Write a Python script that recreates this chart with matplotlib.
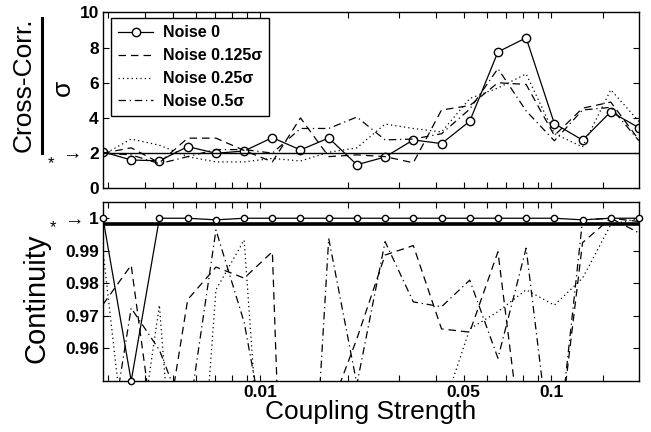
import matplotlib
matplotlib.use("Agg")
import matplotlib.pyplot as plt
from matplotlib.lines import Line2D

plt.rcParams["font.family"] = ["Liberation Sans", "DejaVu Sans"]

# ============================================================
# data
# ============================================================
coupling = [0.00288, 0.0036, 0.0045, 0.00563, 0.00704, 0.0088, 0.011, 0.01374,
            0.01718, 0.02147, 0.02684, 0.03355, 0.04194, 0.05243, 0.06554,
            0.08192, 0.1024, 0.128, 0.16, 0.2]

noise_labels = ["Noise 0", "Noise 0.125σ", "Noise 0.25σ", "Noise 0.5σ"]

# cross-correlation / sigma
cc_noise0 = [2.07, 1.61, 1.56, 2.37, 1.99, 2.12, 2.88, 2.18, 2.86, 1.34,
             1.78, 2.75, 2.54, 3.81, 7.75, 8.55, 3.68, 2.74, 4.35, 3.44]
cc_noise125 = [2.0, 2.3, 1.45, 2.85, 2.85, 2.15, 1.5, 4.0, 1.8, 1.9,
               1.8, 1.45, 4.45, 4.7, 6.0, 5.9, 3.0, 4.55, 4.9, 2.75]
cc_noise25 = [1.9, 2.8, 2.45, 1.8, 1.5, 1.5, 1.7, 1.55, 2.05, 2.3,
              3.65, 3.4, 3.2, 5.1, 5.7, 6.5, 3.1, 2.35, 5.6, 3.8]
cc_noise5 = [2.0, 1.9, 1.4, 1.8, 2.2, 2.2, 2.0, 3.4, 3.4, 4.05,
             2.75, 2.8, 3.1, 4.5, 6.8, 4.4, 2.7, 4.45, 4.6, 2.7]

# continuity
ct_noise0 = [1.0, 0.95, 1.0, 1.0, 0.9995, 1.0, 1.0, 1.0, 1.0, 1.0,
             1.0, 1.0, 1.0, 1.0, 1.0, 1.0, 1.0, 0.9995, 1.0, 1.0]
ct_noise125 = [0.9735, 0.9856, 0.921, 0.975, 0.985, 0.9816, 0.9897, 0.74, 0.94, 0.963,
               0.9887, 0.9916, 0.966, 0.965, 0.9897, 0.92, 0.92, 0.9925, 1.0, 0.999]
ct_noise25 = [0.99, 0.913, 0.9733, 0.86, 0.978, 0.9933, 0.87, 0.85, 0.85, 0.85,
              0.85, 0.85, 0.94, 0.966, 0.9713, 0.978, 0.9733, 0.9816, 0.998, 1.0]
ct_noise5 = [0.918, 0.9724, 0.9595, 0.937, 0.9964, 0.968, 0.921, 0.848, 0.9938, 0.949,
             0.9928, 0.9743, 0.9728, 0.981, 0.957, 0.9908, 0.919, 0.9995, 1.0, 0.9955]

cc_ref = 2.0
ct_ref = 0.9983

xtick_vals = [0.01, 0.05, 0.1]
xtick_labels = ["0.01", "0.05", "0.1"]

# ============================================================
# styles
# ============================================================
line_kw = [
    dict(linestyle="-", marker="o", mfc="white", mec="black"),
    dict(linestyle=(0, (6, 4))),
    dict(linestyle=(0, (1, 2.5))),
    dict(linestyle=(0, (6, 3, 1, 3))),
]
minor_x = [0.003, 0.004, 0.005, 0.006, 0.007, 0.008, 0.009,
           0.02, 0.03, 0.04, 0.06, 0.07, 0.08, 0.09, 0.15]

fig = plt.figure(figsize=(6.51, 4.32), dpi=100)
ax1 = fig.add_axes([0.1582, 0.5641, 0.8233, 0.4074])
ax2 = fig.add_axes([0.1582, 0.1181, 0.8233, 0.4144])


def style_axis(ax, show_labels):
    ax.set_xscale("log")
    ax.set_xlim(coupling[0], coupling[-1])
    ax.set_xticks(xtick_vals)
    ax.set_xticks(minor_x, minor=True)
    ax.set_xticklabels(xtick_labels if show_labels else [])
    ax.set_xticklabels([], minor=True)
    ax.tick_params(which="both", direction="in", top=True, right=True,
                   width=0.8, length=4, labelsize=12.5, pad=3)
    for lbl in ax.get_xticklabels() + ax.get_yticklabels():
        lbl.set_fontweight("bold")
    for sp in ax.spines.values():
        sp.set_linewidth(1.0)


# ---------------- top panel ----------------
cc_series = [cc_noise0, cc_noise125, cc_noise25, cc_noise5]
for vals, lab, kw in zip(cc_series, noise_labels, line_kw):
    ax1.plot(coupling, vals, color="black", lw=0.9, ms=6, label=lab, **kw)
ax1.axhline(cc_ref, color="black", lw=1.0)
ax1.set_ylim(0, 10)
ax1.set_yticks([0, 2, 4, 6, 8, 10])
style_axis(ax1, False)

leg = ax1.legend(loc="upper left", bbox_to_anchor=(0.015, 0.968), borderaxespad=0,
                 fancybox=False, edgecolor="black", framealpha=1,
                 prop={"weight": "bold", "size": 11.5}, handlelength=2.2,
                 handletextpad=0.6, labelspacing=0.5, borderpad=0.45)
leg.get_frame().set_linewidth(1.0)

# ---------------- bottom panel ----------------
ct_series = [ct_noise0, ct_noise125, ct_noise25, ct_noise5]
for i, (vals, kw) in enumerate(zip(ct_series, line_kw)):
    ax2.plot(coupling, vals, color="black", lw=0.9, ms=4.5, clip_on=(i != 0),
             zorder=3 - i * 0.1, **kw)
ax2.axhline(ct_ref, color="black", lw=2.6)
ax2.set_ylim(0.95, 1.005)
ax2.set_yticks([0.96, 0.97, 0.98, 0.99, 1.0])
ax2.set_yticklabels(["0.96", "0.97", "0.98", "0.99", "1"])
style_axis(ax2, True)
ax2.set_xlabel("Coupling Strength", fontsize=19)
ax2.xaxis.set_label_coords(0.5, -0.105)

# ---------------- y labels ----------------
fig.text(0.037, 0.803, "Cross-Corr.", rotation=90, fontsize=19, ha="center", va="center")
fig.add_artist(Line2D([0.064, 0.064], [0.646, 0.958], color="black", lw=2.2))
fig.text(0.097, 0.796, "σ", rotation=90, fontsize=19, ha="center", va="center")
fig.text(0.056, 0.31, "Continuity", rotation=90, fontsize=21, ha="center", va="center")

# "* ->" markers next to the reference values
fig.text(0.079, 0.622, "*", fontsize=12, ha="center", va="center")
fig.text(0.111, 0.641, "→", fontsize=14, ha="center", va="center")
fig.text(0.081, 0.472, "*", fontsize=12, ha="center", va="center")
fig.text(0.113, 0.49, "→", fontsize=14, ha="center", va="center")

fig.savefig("out.png", dpi=100)
